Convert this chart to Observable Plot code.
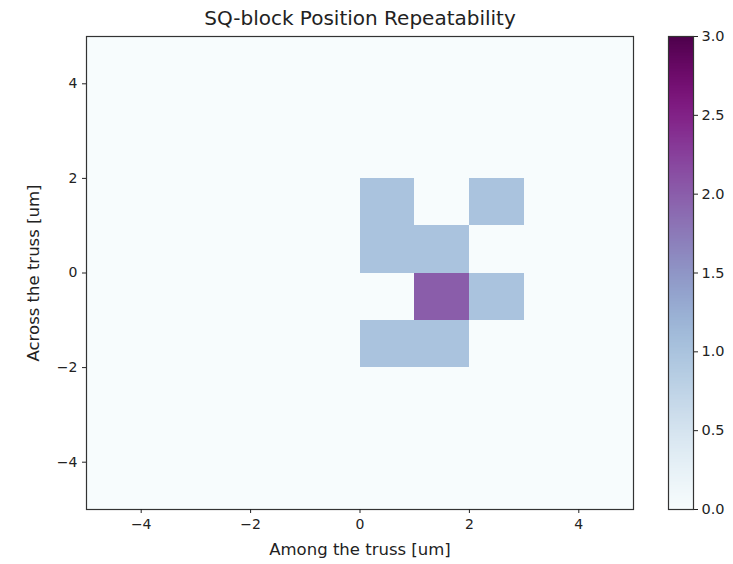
<!DOCTYPE html>
<html>
<head>
<meta charset="utf-8">
<script src="https://cdn.jsdelivr.net/npm/d3@7"></script>
<script src="https://cdn.jsdelivr.net/npm/@observablehq/plot@0.6"></script>
<style>
  body { margin: 0; background: #fff; }
  #wrap { position: relative; width: 733px; height: 564px; font-family: "DejaVu Sans", sans-serif; }
  #wrap svg { position: absolute; top: 0; }
</style>
</head>
<body>
<div id="wrap"></div>
<script>
// Histogram bin edges (um)
const xEdges = [-5, -4, -3, -2, -1, 0, 1, 2, 3, 4, 5];
const yEdges = [-5, -4, -3, -2, -1, 0, 1, 2, 3, 4, 5];
// Counts, rows from top (y 4..5) to bottom (y -5..-4), columns x -5..5
const counts = [
  [0,0,0,0,0,0,0,0,0,0],
  [0,0,0,0,0,0,0,0,0,0],
  [0,0,0,0,0,0,0,0,0,0],
  [0,0,0,0,0,1,0,1,0,0],
  [0,0,0,0,0,1,1,0,0,0],
  [0,0,0,0,0,0,2,1,0,0],
  [0,0,0,0,0,1,1,0,0,0],
  [0,0,0,0,0,0,0,0,0,0],
  [0,0,0,0,0,0,0,0,0,0],
  [0,0,0,0,0,0,0,0,0,0]
];
const axisTicks = [-4, -2, 0, 2, 4];
const colorTicks = [0, 0.5, 1, 1.5, 2, 2.5, 3];
const colorDomain = [0, 3];
const title = "SQ-block Position Repeatability";
const xLabel = "Among the truss [um]";
const yLabel = "Across the truss [um]";

const nRows = counts.length;
const cells = [];
counts.forEach((row, r) => row.forEach((c, i) => {
  const yi = nRows - 1 - r;
  cells.push({x1: xEdges[i], x2: xEdges[i + 1], y1: yEdges[yi], y2: yEdges[yi + 1], count: c});
}));

const minus = d => (d < 0 ? "\u2212" + Math.abs(d) : String(d));
const font = "DejaVu Sans, sans-serif";

const main = Plot.plot({
  width: 733, height: 564,
  marginLeft: 86, marginRight: 100, marginTop: 36, marginBottom: 55,
  style: {fontFamily: font, fontSize: "14px", color: "#222", background: "transparent"},
  x: {domain: [-5, 5]},
  y: {domain: [-5, 5]},
  color: {type: "linear", domain: colorDomain, interpolate: d3.interpolateBuPu},
  marks: [
    Plot.rect(cells, {x1: "x1", x2: "x2", y1: "y1", y2: "y2", fill: "count", inset: 0, shapeRendering: "crispEdges"}),
    Plot.frame({stroke: "#333", strokeWidth: 1.2}),
    Plot.axisX({ticks: axisTicks, tickFormat: minus, tickSize: 4, tickPadding: 6, label: null, fontSize: 14}),
    Plot.axisY({ticks: axisTicks, tickFormat: minus, tickSize: 4, tickPadding: 5, label: null, fontSize: 14}),
    Plot.text([xLabel], {frameAnchor: "bottom", dy: 45, fontSize: 16.5, text: d => d}),
    Plot.text([yLabel], {frameAnchor: "left", dx: -53, rotate: -90, textAnchor: "middle", fontSize: 16.5, text: d => d}),
    Plot.text([title], {frameAnchor: "top", dy: -26, fontSize: 20, text: d => d})
  ]
});
document.getElementById("wrap").appendChild(main);

const barVals = d3.range(0, 300).map(i => ({v1: i / 100, v2: (i + 1) / 100}));
const bar = Plot.plot({
  width: 93, height: 564,
  marginLeft: 28, marginRight: 40, marginTop: 36, marginBottom: 55,
  style: {fontFamily: font, fontSize: "14px", color: "#222", background: "transparent"},
  x: {domain: [0, 1], axis: null},
  y: {domain: colorDomain},
  color: {type: "linear", domain: colorDomain, interpolate: d3.interpolateBuPu},
  marks: [
    Plot.rect(barVals, {x1: 0, x2: 1, y1: "v1", y2: "v2", fill: d => (d.v1 + d.v2) / 2, shapeRendering: "crispEdges"}),
    Plot.frame({stroke: "#333", strokeWidth: 1.2}),
    Plot.axisY({anchor: "right", ticks: colorTicks, tickFormat: d => d.toFixed(1), tickSize: 4, tickPadding: 4, label: null, fontSize: 14.5})
  ]
});
bar.style.left = "640px";
document.getElementById("wrap").appendChild(bar);
</script>
</body>
</html>
